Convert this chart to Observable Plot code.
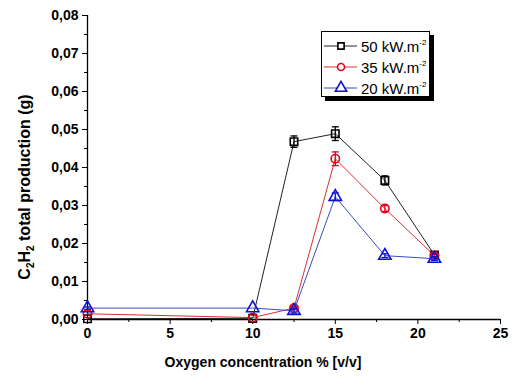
<!DOCTYPE html>
<html>
<head>
<meta charset="utf-8">
<script src="https://cdn.jsdelivr.net/npm/d3@7"></script>
<script src="https://cdn.jsdelivr.net/npm/@observablehq/plot@0.6"></script>
<style>
  body { margin: 0; background: #fff; }
  #wrap { position: relative; width: 513px; height: 378px; font-family: "Liberation Sans", Arial, sans-serif; }
  #legend { position: absolute; left: 321px; top: 31px; width: 107px; height: 64px; border: 1px solid #000;
    background: #fff; box-shadow: 4px 4px 0 #000; font-size: 15px; }
  .item { position: absolute; left: 0; height: 20px; display: flex; align-items: center; white-space: nowrap; }
  .item svg { display: block; }
  .item span { margin-left: 3px; }
  sup { font-size: 8px; vertical-align: 7px; line-height: 0; }
</style>
</head>
<body>
<div id="wrap"></div>
<script>
const oxygen = [0, 10, 12.5, 15, 18, 21];
const c50 = [0.0002, 0.0003, 0.0468, 0.0489, 0.0366, 0.0170];
const err50 = [0, 0, 0.0015, 0.0018, 0.0012, 0.0005];
const c35 = [0.0015, 0.0005, 0.0030, 0.0423, 0.0292, 0.0168];
const err35 = [0, 0, 0.0004, 0.0018, 0.0008, 0.0004];
const c20 = [0.0030, 0.0030, 0.0023, 0.0323, 0.0168, 0.0160];
const err20 = [0.0003, 0, 0.0006, 0.0010, 0.0005, 0.0005];
const seriesNames = ["50 kW.m-2", "35 kW.m-2", "20 kW.m-2"];
const seriesColors = ["#000000", "#e3001b", "#1010d8"];
const lineColors = ["#222222", "#d83030", "#3b4bbf"];
const seriesSymbols = ["square", "circle", "triangle"];
const xTicks = [0, 5, 10, 15, 20, 25];
const xMinor = [2.5, 7.5, 12.5, 17.5, 22.5];
const yTicks = [0, 0.01, 0.02, 0.03, 0.04, 0.05, 0.06, 0.07, 0.08];
const yMinor = [0.005, 0.015, 0.025, 0.035, 0.045, 0.055, 0.065, 0.075];

const values = [c50, c35, c20];
const errs = [err50, err35, err20];
const rows = [];
values.forEach((vals, s) => vals.forEach((v, i) => rows.push({s, x: oxygen[i], y: v, e: errs[s][i]})));
const errRows = rows.filter(d => d.e > 0);
const capSymbol = { draw(ctx, size) { const w = 3.5; ctx.moveTo(-w, 0); ctx.lineTo(w, 0); } };

const marks = [
  Plot.axisX({ticks: xTicks, tickSize: 5, tickPadding: 4, tickFormat: d => String(d), label: null}),
  Plot.axisX({ticks: xMinor, tickSize: 3, tickFormat: () => "", label: null}),
  Plot.axisY({ticks: yTicks, tickSize: 5, tickPadding: 4, tickFormat: d => d.toFixed(2).replace(".", ","), label: null}),
  Plot.axisY({ticks: yMinor, tickSize: 3, tickFormat: () => "", label: null}),
  Plot.ruleX([0], {stroke: "#000", strokeWidth: 1.3}),
  Plot.ruleY([0], {stroke: "#000", strokeWidth: 1.3})
];
[0, 1, 2].forEach(s => {
  const data = rows.filter(d => d.s === s);
  const eData = errRows.filter(d => d.s === s);
  marks.push(
    Plot.line(data, {x: "x", y: "y", stroke: lineColors[s], strokeWidth: 1}),
    Plot.ruleX(eData, {x: "x", y1: d => d.y - d.e, y2: d => d.y + d.e, stroke: seriesColors[s], strokeWidth: 1.3}),
    Plot.dot(eData, {x: "x", y: d => d.y - d.e, symbol: capSymbol, stroke: seriesColors[s], strokeWidth: 1.3, r: 3}),
    Plot.dot(eData, {x: "x", y: d => d.y + d.e, symbol: capSymbol, stroke: seriesColors[s], strokeWidth: 1.3, r: 3}),
    Plot.dot(data, {x: "x", y: "y", symbol: seriesSymbols[s], stroke: seriesColors[s], strokeWidth: 1.6, r: s === 2 ? 4.6 : 4.2, fill: "none"})
  );
});

const chart = Plot.plot({
  width: 513, height: 378,
  marginLeft: 87, marginRight: 13, marginTop: 15, marginBottom: 59,
  x: {domain: [0, 25]},
  y: {domain: [0, 0.08]},
  style: {fontFamily: "'Liberation Sans', Arial, sans-serif", fontSize: "14px", fontWeight: "bold", color: "#000", background: "#fff"},
  marks
});
const wrap = document.getElementById("wrap");
wrap.appendChild(chart);

const svg = d3.select(chart);
svg.append("text")
  .attr("x", 263).attr("y", 367).attr("text-anchor", "middle")
  .attr("font-size", 14).attr("font-weight", "bold").attr("fill", "#000")
  .text("Oxygen concentration % [v/v]");
const yl = svg.append("text")
  .attr("transform", "translate(30,187) rotate(-90)").attr("text-anchor", "middle")
  .attr("font-size", 16).attr("font-weight", "bold").attr("fill", "#000");
yl.append("tspan").text("C");
yl.append("tspan").attr("font-size", 10).attr("dy", 4).text("2");
yl.append("tspan").attr("dy", -4).text("H");
yl.append("tspan").attr("font-size", 10).attr("dy", 4).text("2");
yl.append("tspan").attr("dy", -4).text(" total production (g)");

// legend
const legend = document.createElement("div");
legend.id = "legend";
seriesNames.forEach((name, s) => {
  const item = document.createElement("div");
  item.className = "item";
  item.style.top = (4 + s * 21) + "px";
  const sym = d3.create("svg").attr("width", 36).attr("height", 20);
  sym.append("line").attr("x1", 2).attr("x2", 35).attr("y1", 10).attr("y2", 10).attr("stroke", lineColors[s]).attr("stroke-width", 1);
  const symType = [d3.symbolSquare, d3.symbolCircle, d3.symbolTriangle][s];
  const rr = s === 2 ? 4.2 : 3.5;
  sym.append("path").attr("transform", "translate(19,10)").attr("d", d3.symbol(symType, Math.PI * rr * rr)())
    .attr("fill", "#fff").attr("stroke", seriesColors[s]).attr("stroke-width", 1.6);
  item.appendChild(sym.node());
  const label = document.createElement("span");
  const [base] = name.split("-2");
  label.innerHTML = base + "<sup>-2</sup>";
  item.appendChild(label);
  legend.appendChild(item);
});
wrap.appendChild(legend);
</script>
</body>
</html>
